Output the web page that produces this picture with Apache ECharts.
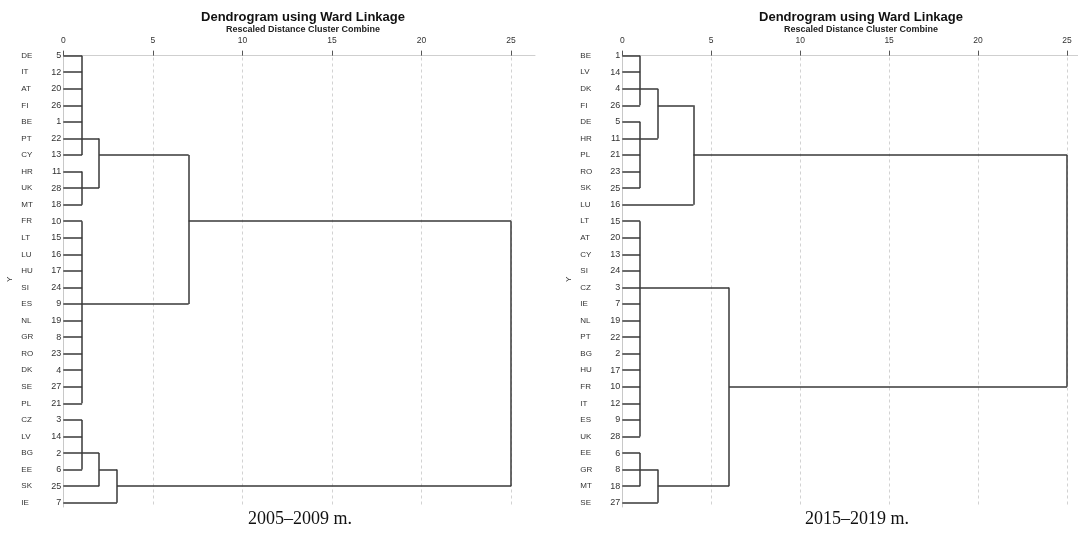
<!DOCTYPE html>
<html>
<head>
<meta charset="utf-8">
<script src="https://cdn.jsdelivr.net/npm/echarts@6/dist/echarts.min.js"></script>
<style>
  html, body { margin: 0; padding: 0; background: #fff; }
  #chart { width: 1078px; height: 535px; }
</style>
</head>
<body>
<div id="chart"></div>
<script>
// 2005-2009 dendrogram rows (top to bottom)
var labels2005 = ['DE','IT','AT','FI','BE','PT','CY','HR','UK','MT','FR','LT','LU','HU','SI','ES','NL','GR','RO','DK','SE','PL','CZ','LV','BG','EE','SK','IE'];
var ids2005 = [5,12,20,26,1,22,13,11,28,18,10,15,16,17,24,9,19,8,23,4,27,21,3,14,2,6,25,7];
// merges: height (rescaled distance), row the cluster line leaves from, members
var mergeHeights2005 = [1.05, 1.05, 2, 1.05, 7, 1.05, 2, 3, 25];
var mergeRows2005 = [5, 8, 6, 15, 10, 24, 25, 26, null];
var mergeChildren2005 = [
  [0,1,2,3,4,5,6],
  [7,8,9],
  ['m0','m1'],
  [10,11,12,13,14,15,16,17,18,19,20,21],
  ['m2','m3'],
  [22,23,24,25],
  ['m5',26],
  ['m6',27],
  ['m4','m7']
];

// 2015-2019 dendrogram rows
var labels2015 = ['BE','LV','DK','FI','DE','HR','PL','RO','SK','LU','LT','AT','CY','SI','CZ','IE','NL','PT','BG','HU','FR','IT','ES','UK','EE','GR','MT','SE'];
var ids2015 = [1,14,4,26,5,11,21,23,25,16,15,20,13,24,3,7,19,22,2,17,10,12,9,28,6,8,18,27];
var mergeHeights2015 = [1, 1, 2, 4, 1, 1, 2, 6, 25];
var mergeRows2015 = [2, 5, 3, 6, 14, 25, 26, 20, null];
var mergeChildren2015 = [
  [0,1,2,3],
  [4,5,6,7,8],
  ['m0','m1'],
  ['m2',9],
  [10,11,12,13,14,15,16,17,18,19,20,21,22,23],
  [24,25,26],
  ['m5',27],
  ['m4','m6'],
  ['m3','m7']
];

var xTicks = [0, 5, 10, 15, 20, 25];

// turn merge table into line segments (data coordinates)
function buildSegments(heights, rows, children) {
  var segs = [];
  function h(ref) { return typeof ref === 'number' ? 0 : heights[+ref.slice(1)]; }
  function r(ref) { return typeof ref === 'number' ? ref : rows[+ref.slice(1)]; }
  children.forEach(function (kids, i) {
    var H = heights[i];
    var rs = kids.map(r);
    segs.push({ coords: [[H, Math.min.apply(null, rs)], [H, Math.max.apply(null, rs)]] });
    kids.forEach(function (k) {
      segs.push({ coords: [[h(k), r(k)], [H, r(k)]] });
    });
  });
  return segs;
}

function rowIndex(list) { return list.map(function (_, i) { return i; }); }

function makeY(gridIndex, labels, ids) {
  return {
    type: 'value', gridIndex: gridIndex, inverse: true, min: -0.25, max: 27.26,
    name: 'Y', nameLocation: 'middle', nameGap: 50, nameRotate: 90,
    nameTextStyle: { fontSize: 8, color: '#333', fontFamily: 'Liberation Sans' },
    axisLine: { show: true, lineStyle: { color: '#c8c8c8', width: 1 } },
    axisTick: { show: false },
    splitLine: { show: false },
    axisLabel: {
      customValues: rowIndex(labels), margin: 2,
      formatter: function (v) { return '{c|' + labels[v] + '}{n|' + ids[v] + '}'; },
      rich: {
        c: { width: 27, align: 'left', fontSize: 8, color: '#333', fontFamily: 'Liberation Sans' },
        n: { width: 13, align: 'right', fontSize: 9, color: '#333', fontFamily: 'Liberation Sans' }
      }
    }
  };
}

function makeX(gridIndex, max) {
  return {
    type: 'value', gridIndex: gridIndex, position: 'top', min: 0, max: max,
    axisLine: { show: true, lineStyle: { color: '#cfcfcf', width: 1 } },
    axisTick: { show: true, customValues: xTicks, length: 5, lineStyle: { color: '#555' } },
    axisLabel: { customValues: xTicks, margin: 6, fontSize: 8.5, color: '#333', fontFamily: 'Liberation Sans' },
    splitLine: { show: true, lineStyle: { type: [3, 3], color: '#d2d2d2', width: 1 } }
  };
}

var lineStyle = { color: '#383838', width: 1.5, opacity: 1 };

var titleText = { fontSize: 13, fontWeight: 'bold', color: '#111', fontFamily: 'Liberation Sans' };
var subText = { fontSize: 9, fontWeight: 'bold', color: '#222', fontFamily: 'Liberation Sans' };

var chart = echarts.init(document.getElementById('chart'));
var option = {
  animation: false,
  backgroundColor: '#fff',
  title: [
    { text: 'Dendrogram using Ward Linkage', subtext: 'Rescaled Distance Cluster Combine',
      left: 298, top: 7, textAlign: 'center', itemGap: 1, padding: [4, 5, 2, 5],
      textStyle: titleText, subtextStyle: subText },
    { text: 'Dendrogram using Ward Linkage', subtext: 'Rescaled Distance Cluster Combine',
      left: 856, top: 7, textAlign: 'center', itemGap: 1, padding: [4, 5, 2, 5],
      textStyle: titleText, subtextStyle: subText }
  ],
  grid: [
    { left: 63.3, top: 51.5, width: 471.7, height: 455.5 },
    { left: 622.3, top: 51.5, width: 455.7, height: 455.5 }
  ],
  xAxis: [makeX(0, 26.34), makeX(1, 25.62)],
  yAxis: [makeY(0, labels2005, ids2005), makeY(1, labels2015, ids2015)],
  series: [
    { type: 'lines', coordinateSystem: 'cartesian2d', xAxisIndex: 0, yAxisIndex: 0, silent: true,
      lineStyle: lineStyle, data: buildSegments(mergeHeights2005, mergeRows2005, mergeChildren2005) },
    { type: 'lines', coordinateSystem: 'cartesian2d', xAxisIndex: 1, yAxisIndex: 1, silent: true,
      lineStyle: lineStyle, data: buildSegments(mergeHeights2015, mergeRows2015, mergeChildren2015) }
  ],
  graphic: [
    { type: 'text', x: 300, y: 519, style: { text: '2005–2009 m.', textAlign: 'center', textVerticalAlign: 'middle',
      font: '18px "Liberation Serif"', fill: '#111' } },
    { type: 'text', x: 857, y: 519, style: { text: '2015–2019 m.', textAlign: 'center', textVerticalAlign: 'middle',
      font: '18px "Liberation Serif"', fill: '#111' } }
  ]
};
chart.setOption(option);
</script>
</body>
</html>
